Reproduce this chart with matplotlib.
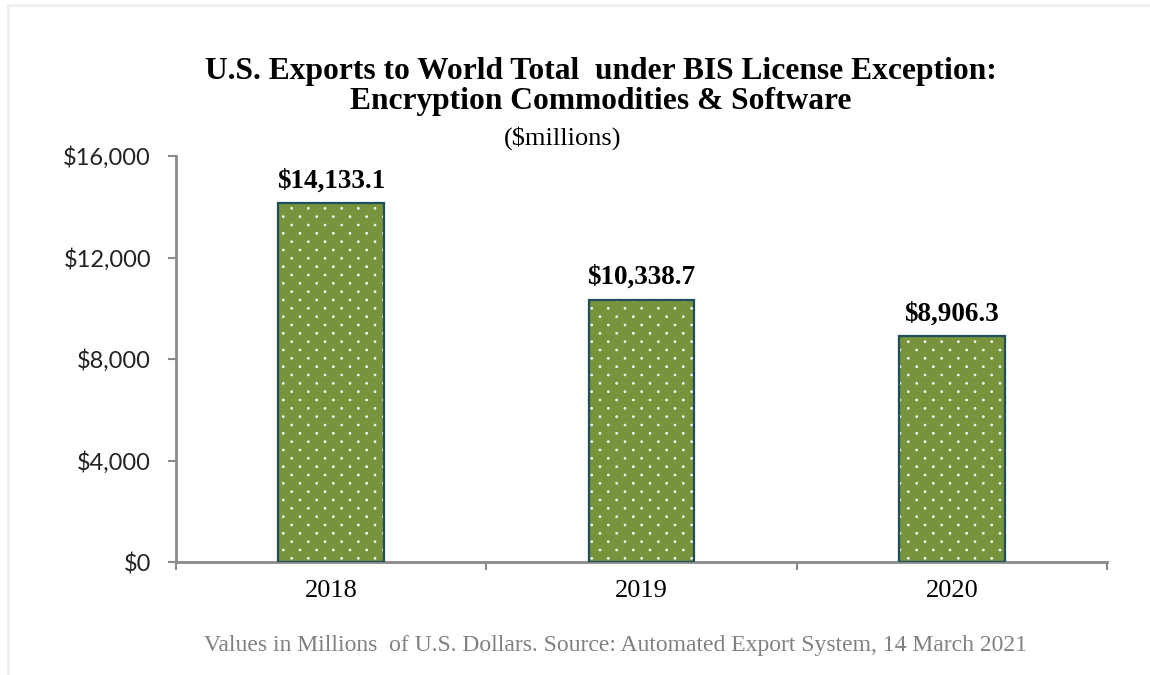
import numpy as np
import matplotlib
matplotlib.use("Agg")
import matplotlib.pyplot as plt
from matplotlib.ticker import FuncFormatter, FixedLocator
from matplotlib.patches import Rectangle
from matplotlib.path import Path
from matplotlib import hatch as mhatch

years = ["2018", "2019", "2020"]
values = [14133.1, 10338.7, 8906.3]
labels = ["$14,133.1", "$10,338.7", "$8,906.3"]
yticks = [0, 4000, 8000, 12000, 16000]

title1 = "U.S. Exports to World Total  under BIS License Exception:"
title2 = "Encryption Commodities & Software"
subtitle = "($millions)"
footer = "Values in Millions  of U.S. Dollars. Source: Automated Export System, 14 March 2021"

BAR = "#77933C"
EDGE = "#1F4E5F"
AXC = "#898989"


# fine staggered dot texture (like Office "dotted" pattern fill)
class DotLattice(mhatch.HatchPatternBase):
    def __init__(self, hatch, density):
        n = hatch.count('.') * density
        self.ncols = n
        self.nrows = 2 * n
        circ = Path.unit_circle()
        self.shape_vertices = circ.vertices * 0.009
        self.shape_codes = circ.codes
        if n == 0:
            self.num_shapes = 0
        else:
            self.num_shapes = (self.nrows // 2 + 1) * (self.ncols + 1) + (self.nrows // 2) * self.ncols
        self.num_vertices = self.num_shapes * len(self.shape_vertices)

    def set_vertices_and_codes(self, vertices, codes):
        vp, cp = [], []
        for row in range(self.nrows + 1):
            if row % 2 == 0:
                cols = np.linspace(0, 1, self.ncols + 1)
            else:
                cols = (np.arange(self.ncols) + 0.5) / self.ncols
            rp = row / self.nrows
            for c in cols:
                vp.append(self.shape_vertices + [c, rp])
                cp.append(self.shape_codes)
        np.concatenate(vp, out=vertices)
        np.concatenate(cp, out=codes)


try:
    for i, t in enumerate(mhatch._hatch_types):
        if t is mhatch.SmallFilledCircles:
            mhatch._hatch_types[i] = DotLattice
except Exception:
    pass

plt.rcParams["hatch.linewidth"] = 0.6

fig = plt.figure(figsize=(11.5, 6.75), dpi=100)
fig.patch.set_facecolor("white")
fig.add_artist(Rectangle((8/1150, -0.1), 1.2, 1 - 5/675 + 0.1, transform=fig.transFigure,
                         fill=False, edgecolor="#efefef", linewidth=2.2))

ax = fig.add_axes([176/1150, 1 - 562/675, (1107 - 176)/1150, (562 - 156)/675])
x = list(range(len(years)))
ax.bar(x, values, width=0.34, color=BAR, edgecolor="white", hatch=".", linewidth=0, zorder=2)
ax.bar(x, values, width=0.34, fill=False, edgecolor=EDGE, linewidth=1.6, zorder=3)

for xi, v, lab in zip(x, values, labels):
    ax.annotate(lab, (xi, v), xytext=(0, 7), textcoords="offset points", ha="center", va="bottom",
                fontsize=19.5, fontweight="bold", family="Liberation Serif", color="black")

ax.set_xlim(-0.5, 2.5)
ax.set_ylim(0, 16000)
ax.set_yticks(yticks)
ax.yaxis.set_major_formatter(FuncFormatter(lambda v, p: f"${v:,.0f}"))
ax.set_xticks(x)
ax.set_xticklabels(years, family="Liberation Serif", fontsize=19)
ax.xaxis.set_minor_locator(FixedLocator([-0.5, 0.5, 1.5, 2.5]))
ax.tick_params(axis="x", which="major", length=0, pad=13)
ax.tick_params(axis="x", which="minor", length=6, width=1.5, color=AXC, direction="out")
ax.tick_params(axis="y", length=6, width=1.5, color=AXC, direction="out", pad=12, labelsize=17)
for t in ax.get_yticklabels():
    t.set_family(["Lato", "DejaVu Sans"])
    t.set_color("#222222")
for s in ["top", "right"]:
    ax.spines[s].set_visible(False)
for s in ["left", "bottom"]:
    ax.spines[s].set_color(AXC)
    ax.spines[s].set_linewidth(2)

fig.text(601/1150, 1 - 71/675, title1, ha="center", va="center", fontsize=22.7, fontweight="bold",
         family="Liberation Serif")
fig.text(601/1150, 1 - 102/675, title2, ha="center", va="center", fontsize=22.7, fontweight="bold",
         family="Liberation Serif")
fig.text(563/1150, 1 - 138/675, subtitle, ha="center", va="center", fontsize=19,
         family="Liberation Serif")
fig.text(616/1150, 1 - 645/675, footer, ha="center", va="center", fontsize=17,
         family="Liberation Serif", color="#808080")

fig.savefig("out.png", dpi=100)
